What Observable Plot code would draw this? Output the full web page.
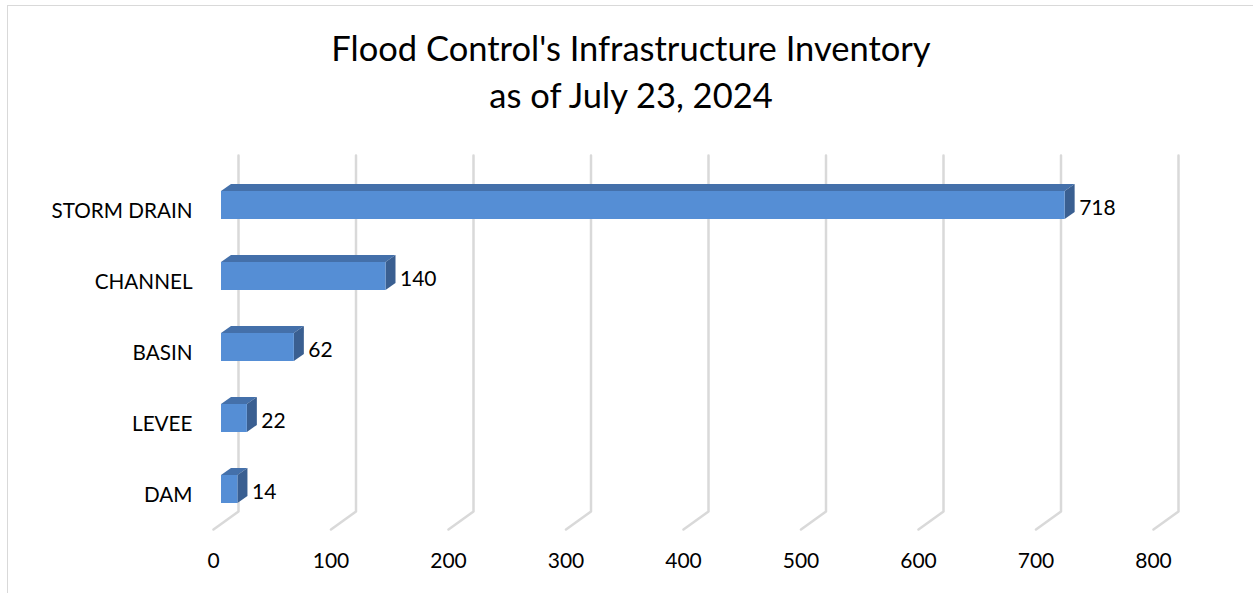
<!DOCTYPE html>
<html>
<head>
<meta charset="utf-8">
<script src="https://cdn.jsdelivr.net/npm/d3@7"></script>
<script src="https://cdn.jsdelivr.net/npm/@observablehq/plot@0.6"></script>
<style>
  html, body { margin: 0; padding: 0; background: #fff; }
  #wrap { position: relative; width: 1253px; height: 593px; overflow: hidden; font-family: Lato, "Open Sans", sans-serif; }
  #frame { position: absolute; left: 7px; top: 5px; width: 1260px; height: 600px; border: 1px solid #d9d9d9; box-sizing: border-box; }
  #title { position: absolute; left: 0; top: 24px; width: 1262px; text-align: center; font-size: 34.5px; line-height: 47px; color: #000; }
  #chart { position: absolute; left: 0; top: 0; }
</style>
</head>
<body>
<div id="wrap">
  <div id="frame"></div>
  <div id="title">Flood Control's Infrastructure Inventory<br>as of July 23, 2024</div>
  <div id="chart"></div>
</div>
<script>
const categories = ["STORM DRAIN", "CHANNEL", "BASIN", "LEVEE", "DAM"];
const values = [718, 140, 62, 22, 14];
const ticks = [0, 100, 200, 300, 400, 500, 600, 700, 800];

// layout constants (pixels)
const W = 1253, H = 593;
const xR = [221, 1161];           // x range for domain [0, 800] (bar front plane)
const pxPerUnit = (xR[1] - xR[0]) / 800;
const yR = [205, 489];            // index 0..4 centres
const pxPerIdx = (yR[1] - yR[0]) / 4;
const u = px => px / pxPerUnit;   // px -> x units
const v = px => px / pxPerIdx;    // px -> y units

const halfH = v(14);              // half front-face height
const DX = u(10), DY = -v(7);     // bar depth
const gridBackX = u(17), gridFrontX = u(-8);
const gridTop = v(155 - 205), gridBack = v(511 - 205), gridFront = v(529 - 205);

const rows = categories.map((c, i) => ({c, i, val: values[i]}));

const topFace = rows.flatMap(d => [
  {c: d.c, y: d.i - halfH, x1: 0, x2: d.val},
  {c: d.c, y: d.i - halfH + DY, x1: DX, x2: d.val + DX}
]);
const sideFace = rows.flatMap(d => [
  {c: d.c, x: d.val, y1: d.i - halfH, y2: d.i + halfH},
  {c: d.c, x: d.val + DX, y1: d.i - halfH + DY, y2: d.i + halfH + DY}
]);
const grid = ticks.flatMap(t => [
  {t, x: t + gridBackX, y: gridTop},
  {t, x: t + gridBackX, y: gridBack},
  {t, x: t + gridFrontX, y: gridFront}
]);

const chart = Plot.plot({
  width: W,
  height: H,
  margin: 0,
  style: {fontFamily: "Lato, 'Open Sans', sans-serif", background: "transparent"},
  x: {type: "linear", domain: [0, 800], range: xR, axis: null},
  y: {type: "linear", domain: [0, 4], range: yR, axis: null},
  marks: [
    Plot.line(grid, {x: "x", y: "y", z: "t", stroke: "#d9d9d9", strokeWidth: 2.5, curve: "linear"}),
    Plot.areaX(topFace, {y: "y", x1: "x1", x2: "x2", z: "c", fill: "#4470aa", curve: "linear"}),
    Plot.areaY(sideFace, {x: "x", y1: "y1", y2: "y2", z: "c", fill: "#3a5f91", curve: "linear"}),
    Plot.rect(rows, {x1: 0, x2: "val", y1: d => d.i - halfH, y2: d => d.i + halfH, fill: "#558ed5"}),
    Plot.text(rows, {x: d => d.val + DX, y: "i", text: d => String(d.val), textAnchor: "start", dx: 4, dy: 3, fontSize: 21, fill: "#000"}),
    Plot.text(rows, {x: 0, y: "i", text: "c", textAnchor: "end", dx: -29, dy: 6, fontSize: 20.7, fill: "#000"}),
    Plot.text(ticks, {x: d => d + gridFrontX, y: 4, text: d => String(d), dy: 72, fontSize: 21, fill: "#000"})
  ]
});
document.getElementById("chart").appendChild(chart);
</script>
</body>
</html>
